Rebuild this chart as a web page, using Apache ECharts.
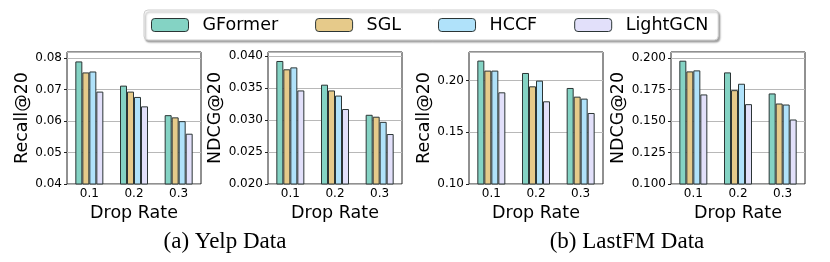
<!DOCTYPE html>
<html>
<head>
<meta charset="utf-8">
<script src="https://cdn.jsdelivr.net/npm/echarts@6/dist/echarts.min.js"></script>
<style>
html,body{margin:0;padding:0;background:#fff;}
#chart{width:830px;height:262px;}
</style>
</head>
<body>
<div id="chart"></div>
<script>
const dropRates = ['0.1', '0.2', '0.3'];
const models = ['GFormer', 'SGL', 'HCCF', 'LightGCN'];
const colors = ['#84d3c4', '#e6ca8a', '#b0e2fa', '#e2e0fa'];

// order of inner arrays: GFormer, SGL, HCCF, LightGCN
const yelpRecall = [
  [0.0790, 0.0713, 0.0619],
  [0.0755, 0.0694, 0.0612],
  [0.0758, 0.0677, 0.0600],
  [0.0694, 0.0647, 0.0560]
];
const yelpNdcg = [
  [0.0392, 0.0355, 0.0308],
  [0.0379, 0.0346, 0.0305],
  [0.0382, 0.0338, 0.0297],
  [0.0346, 0.0317, 0.0278]
];
const lastfmRecall = [
  [0.2194, 0.2074, 0.1929],
  [0.2097, 0.1945, 0.1845],
  [0.2097, 0.2000, 0.1826],
  [0.1887, 0.1800, 0.1687]
];
const lastfmNdcg = [
  [0.1979, 0.1886, 0.1719],
  [0.1894, 0.1745, 0.1639],
  [0.1902, 0.1796, 0.1631],
  [0.1711, 0.1634, 0.1512]
];

const panelData = [yelpRecall, yelpNdcg, lastfmRecall, lastfmNdcg];
const yNames = ['Recall@20', 'NDCG@20', 'Recall@20', 'NDCG@20'];
const yMin = [0.04, 0.020, 0.10, 0.100];
const yMax = [0.082, 0.0406, 0.2277, 0.2048];
const yInterval = [0.01, 0.005, 0.05, 0.025];
const yDecimals = [2, 3, 2, 3];
const captions = ['(a) Yelp Data', '(b) LastFM Data'];

const gridLefts = [67, 268, 469, 671];
const nameGaps = [31, 40, 33, 43];
const font = 'DejaVu Sans';

const grids = [], xAxes = [], yAxes = [], series = [];
for (let p = 0; p < 4; p++) {
  grids.push({left: gridLefts[p], top: 52, width: 134, height: 132, show: true,
    borderColor: '#222', borderWidth: 1, backgroundColor: 'transparent', containLabel: false});
  xAxes.push({type: 'category', gridIndex: p, data: dropRates,
    axisLine: {show: false}, axisTick: {show: false},
    axisLabel: {fontFamily: font, fontSize: 12, color: '#000', margin: 4},
    name: 'Drop Rate', nameLocation: 'middle', nameGap: 19,
    nameTextStyle: {fontFamily: font, fontSize: 17.5, color: '#000'}});
  const dec = yDecimals[p];
  yAxes.push({type: 'value', gridIndex: p, min: yMin[p], max: yMax[p], interval: yInterval[p],
    axisLine: {show: false},
    axisTick: {show: true, length: 3, lineStyle: {color: '#222'}},
    axisLabel: {fontFamily: font, fontSize: 12, color: '#000', margin: 5, showMaxLabel: false,
      formatter: v => v.toFixed(dec)},
    splitLine: {show: true, lineStyle: {color: '#b8b8b8', width: 1}},
    name: yNames[p], nameLocation: 'middle', nameGap: nameGaps[p], nameRotate: 90,
    nameTextStyle: {fontFamily: font, fontSize: 17.5, color: '#000'}});
  for (let m = 0; m < 4; m++) {
    series.push({type: 'bar', name: models[m], xAxisIndex: p, yAxisIndex: p,
      data: panelData[p][m], barWidth: 7, barGap: '0%',
      itemStyle: {color: colors[m], borderColor: '#2b3535', borderWidth: 1},
      emphasis: {disabled: true}, animation: false});
  }
}

const chart = echarts.init(document.getElementById('chart'), null, {renderer: 'canvas'});
chart.setOption({
  animation: false,
  color: colors,
  legend: {
    data: models, left: 144, top: 10, orient: 'horizontal',
    itemWidth: 37, itemHeight: 13, itemGap: 37,
    padding: [6, 10, 6, 7],
    borderColor: '#cfcfcf', borderWidth: 1, borderRadius: 4,
    backgroundColor: '#fff',
    shadowColor: 'rgba(0,0,0,0.35)', shadowBlur: 2, shadowOffsetX: 1.5, shadowOffsetY: 2,
    itemStyle: {borderColor: '#2b3535', borderWidth: 1},
    textStyle: {fontFamily: font, fontSize: 17.5, color: '#000', padding: [0, 0, 0, 9]},
    selectedMode: false
  },
  grid: grids, xAxis: xAxes, yAxis: yAxes, series: series,
  graphic: [
    {type: 'text', x: 225, y: 242, style: {text: captions[0], font: '23px "Liberation Serif"', fill: '#000', textAlign: 'center', textVerticalAlign: 'middle'}},
    {type: 'text', x: 627, y: 242, style: {text: captions[1], font: '23px "Liberation Serif"', fill: '#000', textAlign: 'center', textVerticalAlign: 'middle'}}
  ]
});
</script>
</body>
</html>
